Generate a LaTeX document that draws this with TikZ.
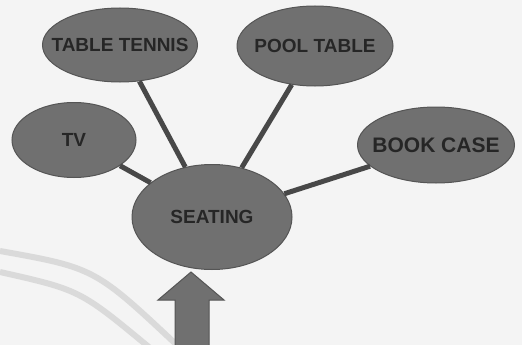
\documentclass[tikz,border=0pt]{standalone}
\usepackage{fontspec}
\setmainfont{Liberation Sans}
\usetikzlibrary{shapes.geometric}
\definecolor{bgc}{HTML}{F4F4F4}
\definecolor{bubfill}{HTML}{707070}
\definecolor{bubedge}{HTML}{555555}
\definecolor{txtc}{HTML}{262626}
\definecolor{linkc}{HTML}{484848}
\definecolor{arcc}{HTML}{DADADA}
\tikzset{
  bub/.style={ellipse, fill=bubfill, draw=bubedge, line width=1pt, inner sep=0pt,
    text=txtc, font=\bfseries\fontsize{19}{19}\selectfont},
  link/.style={draw=linkc, line width=5pt},
  bgarc/.style={draw=arcc, line width=6pt},
  bigarrow/.style={fill=bubfill, draw=bubedge, line width=1pt, line join=miter},
}
\newcommand{\zw}[1]{\makebox[0pt]{#1}}
\begin{document}
\begin{tikzpicture}[x=1pt,y=1pt]
\fill[bgc] (0,0) rectangle (522,-345);
\useasboundingbox (0,0) rectangle (522,-345);
% faint background arcs
\draw[bgarc] (0,-251) .. controls (95,-268) .. (180,-348);
\draw[bgarc] (0,-272) .. controls (80,-290) .. (150,-348);
% nodes
\node[bub, minimum width=155pt, minimum height=74pt] (tt) at (120,-45) {\zw{TABLE TENNIS}};
\node[bub, minimum width=156pt, minimum height=80pt] (pool) at (315,-46) {\zw{POOL TABLE}};
\node[bub, minimum width=124pt, minimum height=75pt] (tv) at (74,-140) {\zw{TV}};
\node[bub, minimum width=157pt, minimum height=76pt, font=\bfseries\fontsize{21}{21}\selectfont] (book) at (436,-145) {\zw{BOOK CASE}};
\node[bub, minimum width=160pt, minimum height=105pt] (seat) at (212,-217) {\zw{SEATING}};
% connectors
\draw[link] (tt) -- (seat);
\draw[link] (pool) -- (seat);
\draw[link] (tv) -- (seat);
\draw[link] (book) -- (seat);
% arrow pointing up at SEATING
\coordinate (atip) at (191,-272);
\draw[bigarrow] (atip) -- (224,-300) -- (209,-300) -- (209,-350) -- (175,-350)
  -- (175,-300) -- (158,-300) -- cycle;
\end{tikzpicture}
\end{document}
